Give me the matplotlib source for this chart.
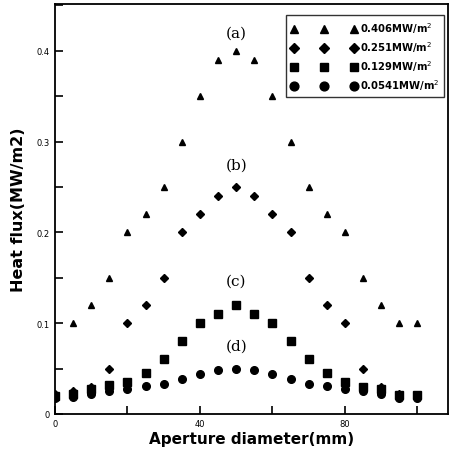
#!/usr/bin/env python3

import numpy as np
import matplotlib
matplotlib.use("Agg")
import matplotlib.pyplot as plt
from matplotlib.ticker import MultipleLocator

# aperture diameter (mm)
x_a = [5, 10, 15, 20, 25, 30, 35, 40, 45, 50, 55, 60, 65, 70, 75, 80, 85, 90, 95, 100]
x_all = [0, 5, 10, 15, 20, 25, 30, 35, 40, 45, 50, 55, 60, 65, 70, 75, 80, 85, 90, 95, 100]

# heat flux (MW/m2)
flux_a = [0.10, 0.12, 0.15, 0.20, 0.22, 0.25, 0.30, 0.35, 0.39, 0.40,
          0.39, 0.35, 0.30, 0.25, 0.22, 0.20, 0.15, 0.12, 0.10, 0.10]
flux_b = [0.022, 0.025, 0.030, 0.050, 0.100, 0.120, 0.150, 0.200, 0.220, 0.240, 0.250,
          0.240, 0.220, 0.200, 0.150, 0.120, 0.100, 0.050, 0.030, 0.022, 0.020]
flux_c = [0.020, 0.022, 0.028, 0.032, 0.035, 0.045, 0.060, 0.080, 0.100, 0.110, 0.120,
          0.110, 0.100, 0.080, 0.060, 0.045, 0.035, 0.030, 0.027, 0.021, 0.021]
flux_d = [0.018, 0.019, 0.022, 0.025, 0.028, 0.031, 0.033, 0.039, 0.044, 0.048, 0.050,
          0.048, 0.044, 0.039, 0.033, 0.031, 0.028, 0.025, 0.022, 0.018, 0.018]

labels = ["0.406MW/m$^2$", "0.251MW/m$^2$", "0.129MW/m$^2$", "0.0541MW/m$^2$"]
curve_tags = ["(a)", "(b)", "(c)", "(d)"]
tag_y = [0.42, 0.275, 0.147, 0.075]

fig = plt.figure(figsize=(4.5, 4.6), dpi=100)
ax = fig.add_axes([0.122, 0.098, 0.874, 0.891])

ax.plot(x_a, flux_a, "^", color="black", ms=5, ls="none", label=labels[0])
ax.plot(x_all, flux_b, "D", color="black", ms=4, ls="none", label=labels[1])
ax.plot(x_all, flux_c, "s", color="black", ms=5.5, ls="none", label=labels[2])
ax.plot(x_all, flux_d, "o", color="black", ms=5.5, ls="none", label=labels[3])

for tag, ty in zip(curve_tags, tag_y):
    ax.text(50, ty, tag, ha="center", va="center", fontsize=11,
            family="DejaVu Serif")

ax.set_xlim(0, 108.5)
ax.set_ylim(0, 0.4515)
ax.xaxis.set_major_locator(MultipleLocator(40))
ax.xaxis.set_minor_locator(MultipleLocator(20))
ax.yaxis.set_major_locator(MultipleLocator(0.1))
ax.yaxis.set_minor_locator(MultipleLocator(0.05))
ax.yaxis.set_major_formatter(plt.FuncFormatter(lambda v, p: "0" if v == 0 else f"{v:.1f}"))

ax.tick_params(which="both", direction="in", length=6, width=1.2, labelsize=6,
               top=False, right=False)
for s in ax.spines.values():
    s.set_linewidth(1.3)

ax.set_xlabel("Aperture diameter(mm)", fontsize=11, fontweight="bold", labelpad=2)
ax.set_ylabel("Heat flux(MW/m2)", fontsize=11.5, fontweight="bold", labelpad=8)

leg = ax.legend(loc="upper right", numpoints=3, fontsize=7.2, frameon=True,
                fancybox=False, edgecolor="black", handlelength=6.6,
                handletextpad=0.3, labelspacing=0.42, borderpad=0.5,
                borderaxespad=0.3, markerscale=1.15,
                bbox_to_anchor=(0.998, 0.98))
leg.get_frame().set_linewidth(1.0)
for t in leg.get_texts():
    t.set_fontweight("bold")

fig.savefig("out.png", dpi=100)
